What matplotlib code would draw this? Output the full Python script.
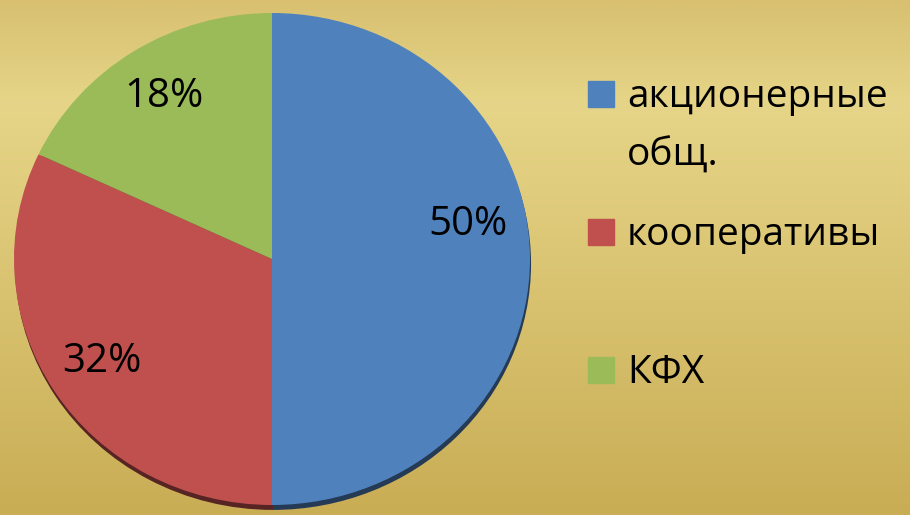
import numpy as np
import matplotlib
matplotlib.use('Agg')
import matplotlib.pyplot as plt
from matplotlib.colors import LinearSegmentedColormap, to_rgb
from matplotlib.patches import Rectangle

labels = ['акционерные\nобщ.', 'кооперативы', 'КФХ']
shares = [50, 32, 18]
colors = ['#4f81bd', '#c0504d', '#9bbb59']

plt.rcParams['font.family'] = ['Open Sans', 'DejaVu Sans']

fig = plt.figure(figsize=(9.1, 5.15), dpi=100)

# background gradient
bg = fig.add_axes([0, 0, 1, 1])
bg_cmap = LinearSegmentedColormap.from_list(
    'bg', [(0, '#d8c070'), (0.2, '#e6d588'), (1, '#c9ad55')])
grad = np.linspace(0, 1, 256).reshape(-1, 1)
bg.imshow(grad, cmap=bg_cmap, aspect='auto', extent=[0, 1, 1, 0])
bg.set_xlim(0, 1)
bg.set_ylim(1, 0)
bg.axis('off')

# pie area (slightly elliptical, like the original)
ax = fig.add_axes([14 / 910, 1 - 505 / 515, 516 / 910, 492 / 515])
dark = [tuple(c * 0.45 for c in to_rgb(col)) for col in colors]
ax.pie(shares, colors=dark, startangle=90, counterclock=False,
       center=(0.004, -0.02), radius=1.0)
wedges, texts, autotexts = ax.pie(
    shares, colors=colors, startangle=90, counterclock=False,
    autopct='%1.0f%%', pctdistance=0.78,
    textprops={'fontsize': 29, 'color': 'black'})
x, y = autotexts[0].get_position()
autotexts[0].set_position((x - 0.02, y + 0.14))
ax.set_aspect('auto')
ax.set_xlim(-1.0, 1.0)
ax.set_ylim(-1.0, 1.0)
ax.axis('off')

# legend drawn by hand
for i, (lab, col) in enumerate(zip(labels, colors)):
    yc = 94 + i * 138
    fig.patches.append(Rectangle((588 / 910, 1 - (yc + 13) / 515), 26 / 910, 26 / 515,
                                 transform=fig.transFigure, color=col))
    fig.text(627 / 910, 1 - (yc + 13) / 515, lab.split('\n')[0],
             fontsize=28, va='baseline', ha='left')
    if '\n' in lab:
        fig.text(627 / 910, 1 - (yc + 72) / 515, lab.split('\n')[1],
                 fontsize=28, va='baseline', ha='left')

fig.savefig('out.png', dpi=100)
